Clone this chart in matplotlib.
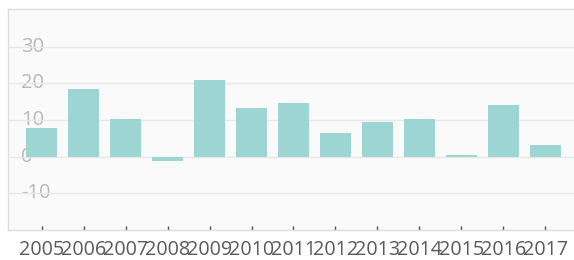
import matplotlib.pyplot as plt
from matplotlib.transforms import blended_transform_factory

years = ['2005', '2006', '2007', '2008', '2009', '2010', '2011',
         '2012', '2013', '2014', '2015', '2016', '2017']
values = [7.9, 18.4, 10.3, -1.2, 20.8, 13.2, 14.6, 6.4, 9.4, 10.4, 0.4, 14.1, 3.1]
y_ticks = [-10, 0, 10, 20, 30]

plt.rcParams['font.family'] = ['Open Sans', 'DejaVu Sans']

fig = plt.figure(figsize=(5.74, 2.60), dpi=100)
fig.patch.set_facecolor('white')
W, H = 574, 260
ax = fig.add_axes([8 / W, 30 / H, 571 / W, 221 / H])
ax.set_facecolor('#fafafa')

x = list(range(len(years)))
ax.bar(x, values, width=0.74, color='#9dd5d3', zorder=2)

ax.set_xlim(-0.8, 12.8)
ax.set_ylim(-20, 40.3)

ax.set_yticks(y_ticks)
ax.set_yticklabels([])
ax.tick_params(axis='y', length=0)
ax.grid(axis='y', color='#e8e8e8', linewidth=1, zorder=0)

trans = blended_transform_factory(ax.transAxes, ax.transData)
for t in y_ticks:
    ax.text(13 / 571, t, str(t), transform=trans, ha='left', va='center',
            fontsize=14.5, color='#b8b8b8', zorder=1)

ax.set_xticks(x)
ax.set_xticklabels(years, fontsize=14.2, color='#5a5a5a')
ax.tick_params(axis='x', direction='in', length=3, width=1, color='#555555', pad=7.5)

for side in ['top', 'bottom', 'left', 'right']:
    ax.spines[side].set_color('#dddddd')
    ax.spines[side].set_linewidth(1)

plt.savefig('out.png', dpi=100)
plt.close()
